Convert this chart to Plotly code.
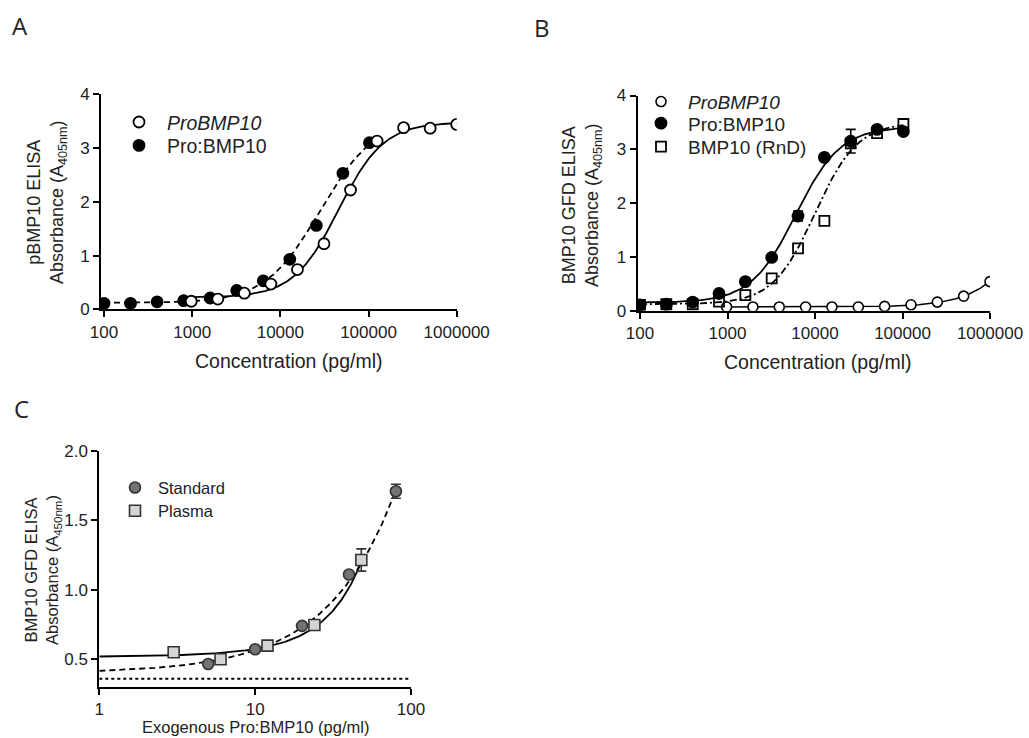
import numpy as np
import plotly.graph_objects as go

W, H = 1029, 738
FONT = "Liberation Sans, Arial, sans-serif"
INK = "#222222"

# ---------------- data ----------------
# dilution series (pg/ml)
conc_probmp10 = [976.6, 1953, 3906, 7813, 15625, 31250, 62500, 125000, 250000, 500000, 1000000]
conc_complex = [100, 200, 400, 800, 1600, 3200, 6400, 12800, 25600, 51200, 102400]

# Panel A: pBMP10 ELISA (A405)
a_probmp10 = [0.15, 0.19, 0.30, 0.47, 0.74, 1.22, 2.22, 3.13, 3.38, 3.37, 3.44]
a_complex = [0.11, 0.11, 0.14, 0.16, 0.21, 0.35, 0.53, 0.93, 1.56, 2.53, 3.10]

# Panel B: BMP10 GFD ELISA (A405)
b_probmp10 = [0.07, 0.07, 0.07, 0.07, 0.07, 0.07, 0.08, 0.11, 0.16, 0.27, 0.54]
b_complex = [0.11, 0.12, 0.16, 0.32, 0.54, 0.99, 1.76, 2.85, 3.15, 3.37, 3.33]
b_complex_sem = [0, 0, 0, 0, 0, 0.05, 0.09, 0, 0.22, 0, 0]
b_rnd = [0.11, 0.12, 0.12, 0.17, 0.29, 0.60, 1.16, 1.67, 3.11, 3.30, 3.47]

# Panel C: BMP10 GFD ELISA (A450) vs exogenous Pro:BMP10
c_std_conc = [5, 10, 20, 40, 80]
c_std_abs = [0.466, 0.572, 0.74, 1.11, 1.71]
c_std_sem = [0, 0, 0, 0, 0.05]
c_plasma_conc = [3, 6, 12, 24, 48]
c_plasma_abs = [0.55, 0.50, 0.598, 0.747, 1.215]
c_plasma_sem = [0, 0, 0, 0, 0.08]
c_blank = 0.36

# four-parameter logistic fits: bottom, top, logEC50, hill slope
fit_a_probmp10 = [0.22, 3.48, 4.66, 1.7]
fit_a_complex = [0.12, 3.55, 4.45, 1.4]
fit_b_probmp10 = [0.07, 3.50, 6.58, 1.37]
fit_b_complex = [0.15, 3.42, 3.78, 1.7]
fit_b_rnd = [0.12, 3.50, 4.00, 1.8]
# polynomial fits for panel C: c0, c1, c2
fit_c_std = [0.40, 0.0165, 0.0]
fit_c_plasma = [0.516, 0.00357, 0.000222]


def logistic(x, p):
    bottom, top, logec50, hill = p
    return bottom + (top - bottom) / (1 + 10 ** ((logec50 - np.log10(x)) * hill))


def poly(x, p):
    return p[0] + p[1] * x + p[2] * x ** 2


def span(lo, hi, n=240):
    return np.logspace(np.log10(lo), np.log10(hi), n)


def fx(px):
    return px / W


def fy(px):
    return 1 - px / H


fig = go.Figure()
legends = {}


def curve(x, y, ax, dash="solid", width=1.8):
    fig.add_trace(go.Scatter(x=x, y=y, mode="lines", xaxis=ax[0], yaxis=ax[1],
                             line=dict(color="black", width=width, dash=dash),
                             showlegend=False, hoverinfo="skip"))


def key(name, mx, my, gap, size):
    """One legend box per entry: symbol centred at (mx, my), label starting gap px later."""
    legends[name] = dict(x=fx(mx - gap), y=fy(my), xanchor="left", yanchor="middle",
                         bgcolor="rgba(0,0,0,0)", itemwidth=2 * (gap - 5),
                         itemsizing="trace", tracegroupgap=0,
                         font=dict(family=FONT, size=size, color=INK))
    return name


def points(x, y, ax, name, legend, symbol, fill, size=11, lw=1.8,
           line_color="black", err=None):
    kw = {}
    if err is not None:
        kw["error_y"] = dict(type="data", array=err, visible=True,
                             color=line_color, thickness=1.6, width=5)
    fig.add_trace(go.Scatter(x=x, y=y, mode="markers", xaxis=ax[0], yaxis=ax[1],
                             name=name, legend=legend,
                             marker=dict(symbol=symbol, size=size, color=fill,
                                         line=dict(color=line_color, width=lw)),
                             **kw))


# ---- panel A ----
A = ("x", "y")
curve(span(100, 102400), logistic(span(100, 102400), fit_a_complex), A, dash="6px,4px")
curve(span(976.6, 1e6), logistic(span(976.6, 1e6), fit_a_probmp10), A)
points(conc_complex, a_complex, A, "Pro:BMP10",
       key("legend2", 139, 145.7, 28, 19.5), "circle", "black")
points(conc_probmp10, a_probmp10, A, "<i>ProBMP10</i>",
       key("legend", 139, 122.3, 28, 19.5), "circle", "white")

# ---- panel B ----
B = ("x2", "y2")
curve(span(976.6, 1e6), logistic(span(976.6, 1e6), fit_b_probmp10), B, width=1.5)
curve(span(100, 102400), logistic(span(100, 102400), fit_b_rnd), B, dash="7px,3px,2px,3px")
curve(span(100, 102400), logistic(span(100, 102400), fit_b_complex), B)
points(conc_probmp10, b_probmp10, B, "<i>ProBMP10</i>",
       key("legend3", 661, 101.7, 27, 19), "circle", "white", size=10, lw=1.6)
points(conc_complex, b_complex, B, "Pro:BMP10",
       key("legend4", 661, 123.3, 27, 19), "circle", "black", err=b_complex_sem)
points(conc_complex, b_rnd, B, "BMP10 (RnD)",
       key("legend5", 661, 146.7, 27, 19), "square-open", "black", size=10)

# ---- panel C ----
C = ("x3", "y3")
curve([1, 100], [c_blank, c_blank], C, dash="dot", width=2)
curve(span(1, 80), poly(span(1, 80), fit_c_std), C, dash="6px,4px")
curve(span(1, 48), poly(span(1, 48), fit_c_plasma), C)
points(c_plasma_conc, c_plasma_abs, C, "Plasma",
       key("legend7", 135, 511, 23, 16.5), "square", "#d4d4d4",
       size=11, lw=1.6, line_color="#333333", err=c_plasma_sem)
points(c_std_conc, c_std_abs, C, "Standard",
       key("legend6", 135, 487.7, 23, 16.5), "circle", "#737373",
       size=11, lw=1.6, line_color="#333333", err=c_std_sem)

axis_common = dict(showline=True, linecolor="black", linewidth=2, ticks="outside",
                   ticklen=6, tickwidth=2, tickcolor="black", showgrid=False,
                   zeroline=False, tickfont=dict(family=FONT, size=17, color=INK))

decades = [100, 1000, 10000, 100000, 1000000]
dec_text = ["100", "1000", "10000", "100000", "1000000"]

layout = dict(
    width=W, height=H, margin=dict(l=0, r=0, t=0, b=0, autoexpand=False),
    paper_bgcolor="white", plot_bgcolor="white",
    font=dict(family=FONT, color=INK),
    xaxis=dict(axis_common, type="log", domain=[fx(101), fx(456.7)],
               range=[2 - 3 / 88.2, 6], tickvals=decades, ticktext=dec_text, anchor="y"),
    yaxis=dict(axis_common, domain=[fy(309.3), fy(94.3)], range=[0, 4],
               tickvals=[0, 1, 2, 3, 4], anchor="x"),
    xaxis2=dict(axis_common, type="log", domain=[fx(637.7), fx(990)],
                range=[2 - 2.3 / 87.5, 6], tickvals=decades, ticktext=dec_text, anchor="y2"),
    yaxis2=dict(axis_common, domain=[fy(310.7), fy(95.5)], range=[0, 4],
                tickvals=[0, 1, 2, 3, 4], anchor="x2"),
    xaxis3=dict(axis_common, type="log", domain=[fx(99.3), fx(411)], range=[0, 2],
                tickvals=[1, 10, 100], ticktext=["1", "10", "100"], anchor="y3"),
    yaxis3=dict(axis_common, domain=[fy(687), fy(451)], range=[0.3, 2.0],
                tickvals=[0.5, 1.0, 1.5, 2.0], ticktext=["0.5", "1.0", "1.5", "2.0"],
                anchor="x3"),
)
layout.update(legends)
fig.update_layout(**layout)


def label(text, x, y, size=19.5, rot=False, family=FONT):
    return dict(text=text, x=fx(x), y=fy(y), xref="paper", yref="paper",
                showarrow=False, textangle=-90 if rot else 0,
                xanchor="center", yanchor="middle",
                font=dict(family=family, size=size, color=INK))


annotations = [
    # panel letters
    label("A", 20, 25, size=24, family="Open Sans, sans-serif"),
    label("B", 542, 27, size=24, family="Open Sans, sans-serif"),
    label("C", 21, 408, size=24, family="Open Sans, sans-serif"),
    # axis titles
    label("Concentration (pg/ml)", 289, 361),
    label("Concentration (pg/ml)", 818, 362),
    label("Exogenous Pro:BMP10 (pg/ml)", 255, 727, size=16.5),
    label("pBMP10 ELISA<br>Absorbance (A<sub>405nm</sub>)", 47, 202, size=18, rot=True),
    label("BMP10 GFD ELISA<br>Absorbance (A<sub>405nm</sub>)", 582, 205, size=18, rot=True),
    label("BMP10 GFD ELISA<br>Absorbance (A<sub>450nm</sub>)", 43, 570, size=16.5, rot=True),
]
fig.update_layout(annotations=annotations)

fig.write_html("out.html", config={"displayModeBar": False})
